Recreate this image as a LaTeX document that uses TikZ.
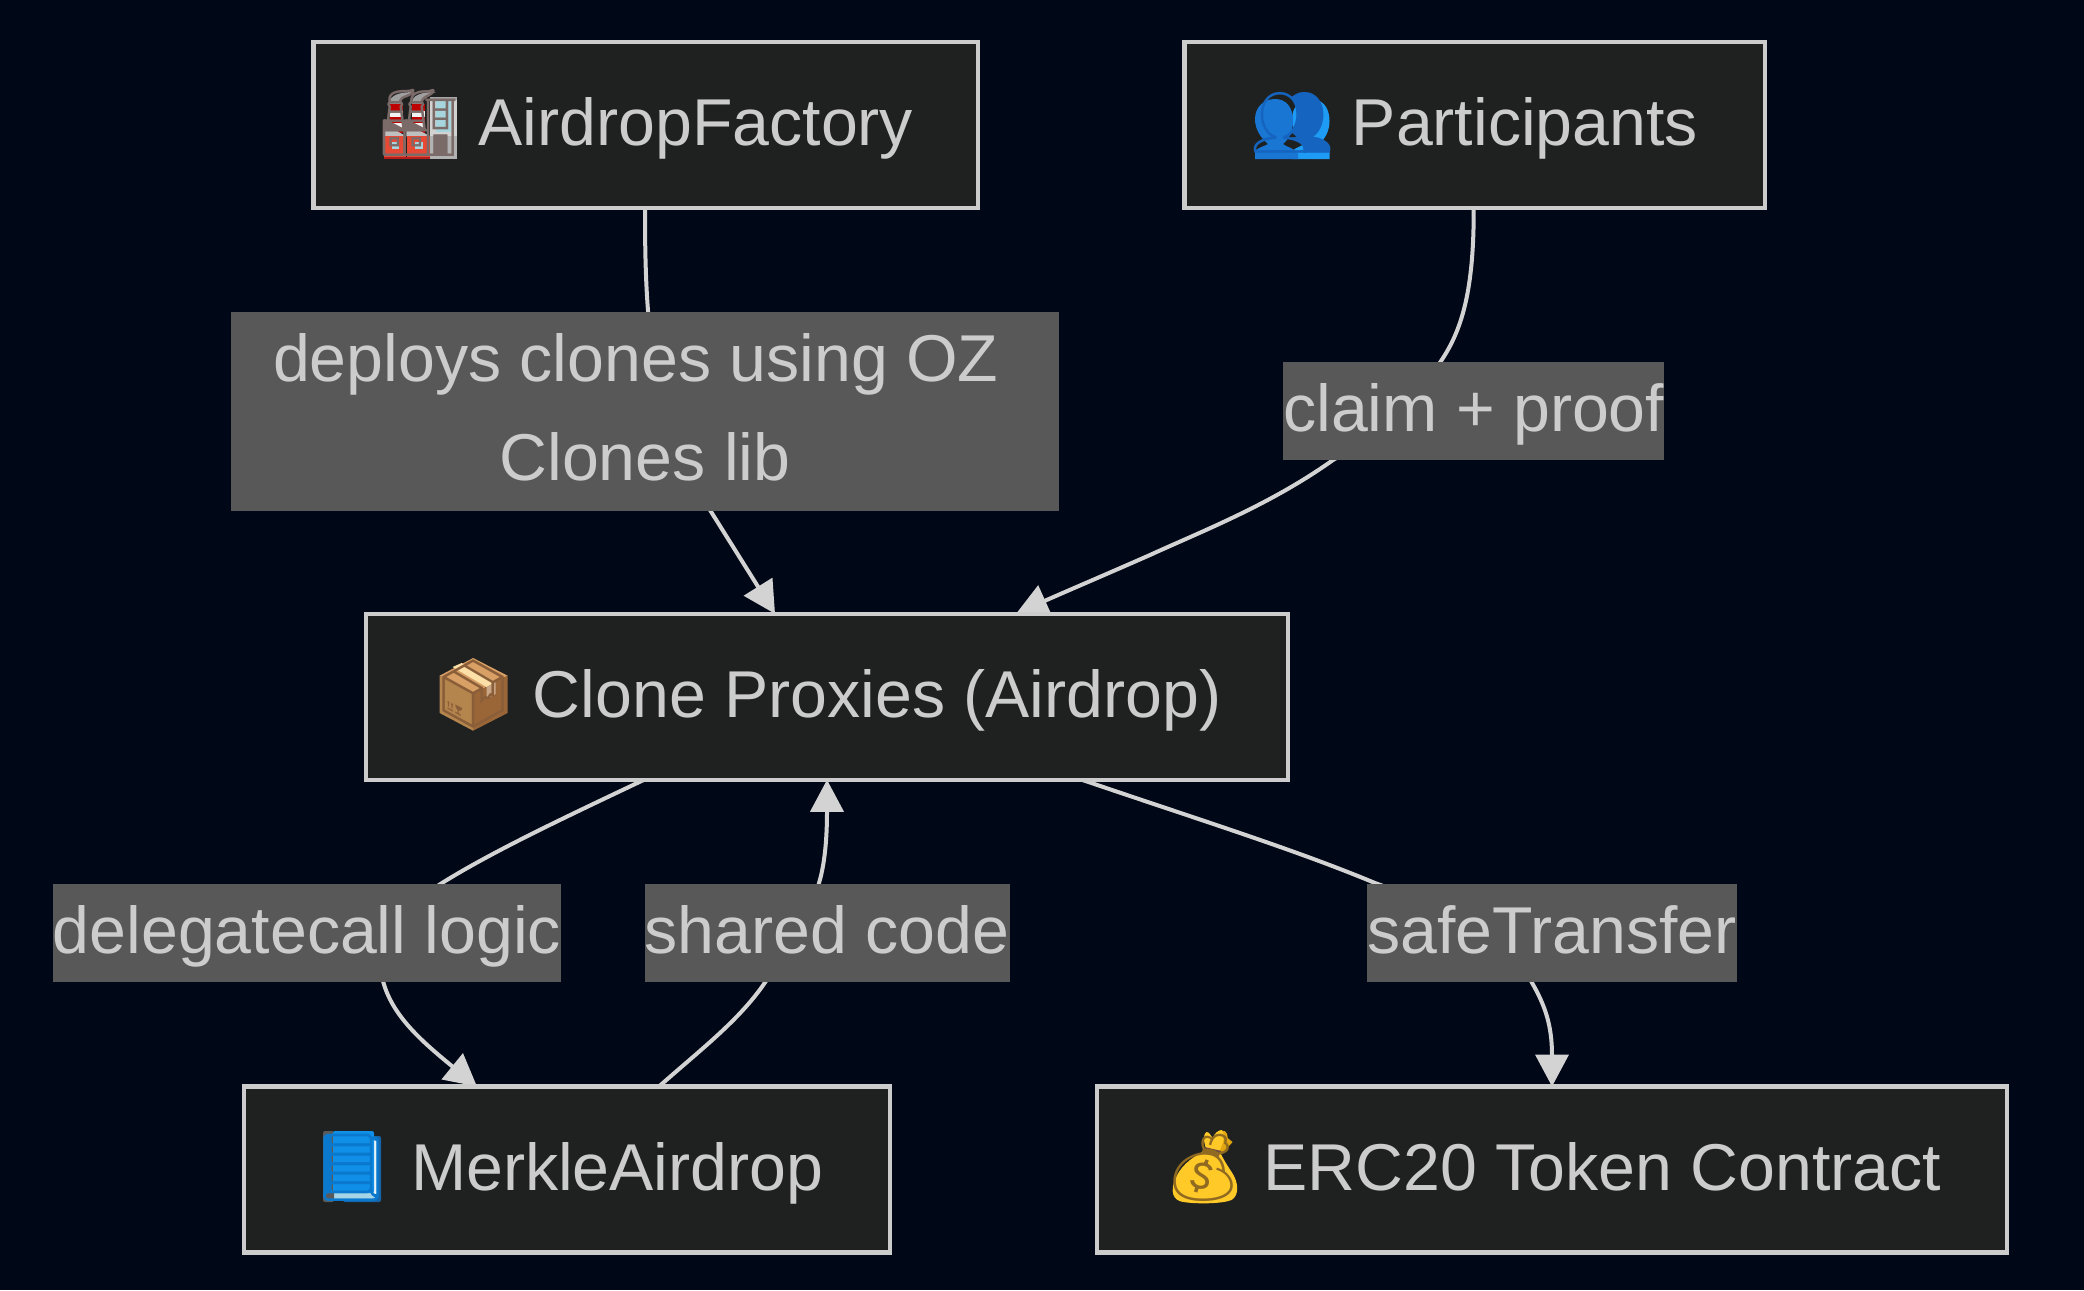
\documentclass[tikz,border=0pt]{standalone}
\usepackage{fontspec}
\setmainfont{Liberation Sans}
\newfontfamily\emofont{Noto Emoji}
\usetikzlibrary{arrows.meta,calc}
\definecolor{pagebg}{HTML}{000716}
\definecolor{boxbg}{HTML}{1F2020}
\definecolor{boxline}{HTML}{CCCCCC}
\definecolor{lablbg}{HTML}{585858}
\definecolor{edgeline}{HTML}{D3D3D3}
\definecolor{gfactory}{HTML}{7A6A68}
\definecolor{gpeople}{HTML}{1565C0}
\definecolor{gparcel}{HTML}{8A5E38}
\definecolor{gbook}{HTML}{0A78CC}
\definecolor{gbag}{HTML}{8F6A20}
\pgfdeclarelayer{under}
\pgfdeclarelayer{art}
\pgfsetlayers{under,art,main}
\newcommand{\emo}[2]{\makebox[82pt][c]{\emofont\color{#1}#2}}
\tikzset{
 HTML/.code={\definecolor{tmpart}{HTML}{#1}\tikzset{color=tmpart}},
 bx/.style={draw=boxline,line width=4.5pt,inner sep=0pt,outer sep=0pt,minimum height=166pt,text=boxline,text height=61.5pt,text depth=20pt,font=\fontsize{66.25}{98.4}\selectfont},
 lb/.style={fill=lablbg,inner sep=0pt,outer sep=0pt,text=boxline,text height=61.5pt,text depth=20pt,minimum height=98.4pt,font=\fontsize{66.25}{98.4}\selectfont},
 ed/.style={draw=edgeline,line width=4pt,-{Triangle[length=32pt,width=33pt,fill=edgeline]}},
}
\begin{document}
\begin{tikzpicture}[x=1pt,y=-1pt]
\useasboundingbox (0,0) rectangle (2084,1290);
\begin{pgfonlayer}{under}
\fill[pagebg] (0,0) rectangle (2084,1290);
\end{pgfonlayer}
\node[bx,minimum width=664.6pt] (air) at (645.7,125) {\emo{gfactory}{🏭} AirdropFactory};
\node[bx,minimum width=580.6pt] (par) at (1474.7,125) {\emo{gpeople}{👥} Participants};
\node[bx,minimum width=922pt] (cln) at (827,696.8) {\emo{gparcel}{📦} Clone Proxies (Airdrop)};
\node[bx,minimum width=646pt] (mrk) at (567,1169.5) {\emo{gbook}{📘} MerkleAirdrop};
\node[bx,minimum width=910pt] (erc) at (1552,1169.5) {\emo{gbag}{💰} ERC20 Token Contract};
\node[lb,minimum width=828pt,align=center,text height=157pt,text depth=20pt,minimum height=199pt] (l1) at (645,411.5) {deploys clones using OZ\hspace*{18.4pt}\\Clones lib};
\node[lb,minimum width=380.5pt] (l2) at (1473.7,410.9) {claim + proof};
\node[lb,minimum width=507.5pt] (l3) at (307,932.8) {delegatecall logic};
\node[lb,minimum width=365pt] (l4) at (827,932.8) {shared code};
\node[lb,minimum width=370.5pt] (l5) at (1552,932.8) {safeTransfer};
\begin{pgfonlayer}{art}
\foreach \n in {air,par,cln,mrk,erc}{\fill[boxbg] (\n.south west) rectangle (\n.north east);}
% factory emoji
\begin{scope}[shift={(384,92)}]
 \fill[gray!75] (5.4,12) .. controls (5.4,3) and (15,0) .. (31,0) .. controls (22,3) and (15,5) .. (17,12) -- cycle;
 \fill[gray!75] (27.7,12) .. controls (27.7,3) and (37,0) .. (52,0) .. controls (44,3) and (37,5) .. (39,12) -- cycle;
 \foreach \d in {0,22.3}{
  \fill[red!75!black] (5.5+\d,12) rectangle (19+\d,41);
  \fill[white!90!gray] (5.5+\d,19) rectangle (19+\d,25);
  \fill[white!90!gray] (5.5+\d,31) rectangle (19+\d,37);
 }
 \fill[gray!50] (0,31.7) -- (22.3,44.3) -- (0,44.3) -- cycle;
 \fill[gray!50] (22.3,31.7) -- (46.4,44.3) -- (22.3,44.3) -- cycle;
 \fill[gray!35] (46,5) rectangle (73,66.7);
 \fill[gray!70] (46,5) rectangle (73,8);
 \fill[HTML=A7D5DE] (52,9) rectangle (67,40);
 \fill[gray!60] (46,44) rectangle (73,66.7);
 \fill[HTML=E64A35] (0,44.3) rectangle (22.3,66.7);
 \fill[HTML=E64A35] (23.2,44.3) rectangle (46.4,66.7);
 \fill[HTML=B71C1C] (0,64.5) rectangle (46.4,66.7);
 \fill[HTML=A7D5DE] (7.5,50) rectangle (15,57);
 \fill[HTML=A7D5DE] (31,50) rectangle (38.5,57);
\end{scope}
% people emoji
\begin{scope}[shift={(1255,99)}]
 \fill[HTML=1E9BF5] (37,60) -- (37,52) .. controls (42,48) and (47,47) .. (49,45) .. controls (42,38) and (37,30) .. (37,20) .. controls (37,8) and (45,0) .. (56,0) .. controls (67,0) and (74.5,8) .. (74.5,22) .. controls (74.5,32) and (70,40) .. (64,45) .. controls (66,48) and (72,49) .. (74.5,52) -- (74.5,60) -- cycle;
 \fill[HTML=1976D2] (0,60) -- (0,52) .. controls (4,48) and (10,47) .. (13,45) .. controls (5,38) and (0,30) .. (0,20) .. controls (0,8) and (9,0) .. (20,0) .. controls (31,0) and (38,8) .. (38,22) .. controls (38,32) and (34,40) .. (28,45) .. controls (31,48) and (40,49) .. (43,55) -- (43,60) -- cycle;
\end{scope}
% parcel emoji
\begin{scope}[shift={(439.6,658)}]
 \fill[HTML=D9A066] (33.5,0) -- (68,17.7) -- (33.5,36) -- (0,17.7) -- cycle;
 \fill[HTML=B5854E] (0,17.7) -- (33.5,36) -- (33.5,72.7) -- (0,55) -- cycle;
 \fill[HTML=9A6638] (68,17.7) -- (33.5,36) -- (33.5,72.7) -- (68,55) -- cycle;
 \fill[HTML=FDE0A8] (13,9) -- (22,5) -- (56,24) -- (47,29) -- cycle;
 \fill[HTML=C9A788] (47,29) -- (56,24) -- (56,36) -- (47,41) -- cycle;
\end{scope}
% book emoji
\begin{scope}[shift={(323,1131)}]
 \fill[HTML=1565A8,rounded corners=2pt] (20,5) rectangle (58,71);
 \fill[HTML=E8F4F8] (50,7) rectangle (55,63);
 \fill[HTML=A5D4E6] (2,62) rectangle (52,69);
 \fill[HTML=5A5A5A,rounded corners=2pt] (0,0) rectangle (11,71);
 \fill[HTML=0F8FE8,rounded corners=2pt] (10,0) rectangle (51,62);
\end{scope}
% bag emoji
\begin{scope}[shift={(1171.6,1130)}]
 \fill[HTML=E2A610] (41,20) -- (48,2) .. controls (52,-1) and (56,1) .. (56,8) -- (61,12) -- (50,24) -- cycle;
 \fill[HTML=FFCA28] (35,20) .. controls (31,10) and (32,3) .. (35,2) .. controls (38,2) and (39,6) .. (41,8) .. controls (43,3) and (47,0) .. (50,0) .. controls (54,4) and (52,14) .. (47,22) -- cycle;
 \fill[HTML=FFCA28] (34,20) .. controls (24,26) and (12,32) .. (5,46) .. controls (-3,62) and (2,71) .. (12,72) .. controls (24,74) and (50,74) .. (60,70) .. controls (68,65) and (67,52) .. (60,42) .. controls (54,33) and (50,26) .. (48,21) -- cycle;
 \fill[HTML=6D4C41] (33,17) -- (50,21) -- (48,24) -- (34,22) -- cycle;
\end{scope}
\end{pgfonlayer}
\begin{pgfonlayer}{under}
\draw[ed] ([xshift=-0.7pt]air.south) .. controls (645,310) and (648,420) .. (710,510) -- ([xshift=-52pt]cln.north);
\draw[ed] ([xshift=-1pt]par.south) .. controls (1474,290) and (1462,330) .. (1441,361) .. controls (1410,410) and (1375,435) .. (1333,460) .. controls (1270,505) and (1200,532) .. (1150,555) .. controls (1100,577) and (1060,594) .. ([xshift=189pt]cln.north);
\draw[ed] ([xshift=-183pt]cln.south) .. controls (570,815) and (495,850) .. (442,883) .. controls (400,910) and (370,950) .. (383,981) .. controls (392,1015) and (420,1040) .. ([xshift=-90pt]mrk.north);
\draw[ed] ([xshift=92pt]mrk.north) .. controls (700,1050) and (740,1020) .. (766,981) .. controls (805,925) and (814,905) .. (819,883) .. controls (826,860) and (827,830) .. (cln.south);
\draw[ed] ([xshift=255pt]cln.south) .. controls (1200,820) and (1296,850) .. (1375,883) .. controls (1450,910) and (1500,940) .. (1531,981) .. controls (1545,1005) and (1552,1025) .. (erc.north);
\end{pgfonlayer}
\end{tikzpicture}
\end{document}
